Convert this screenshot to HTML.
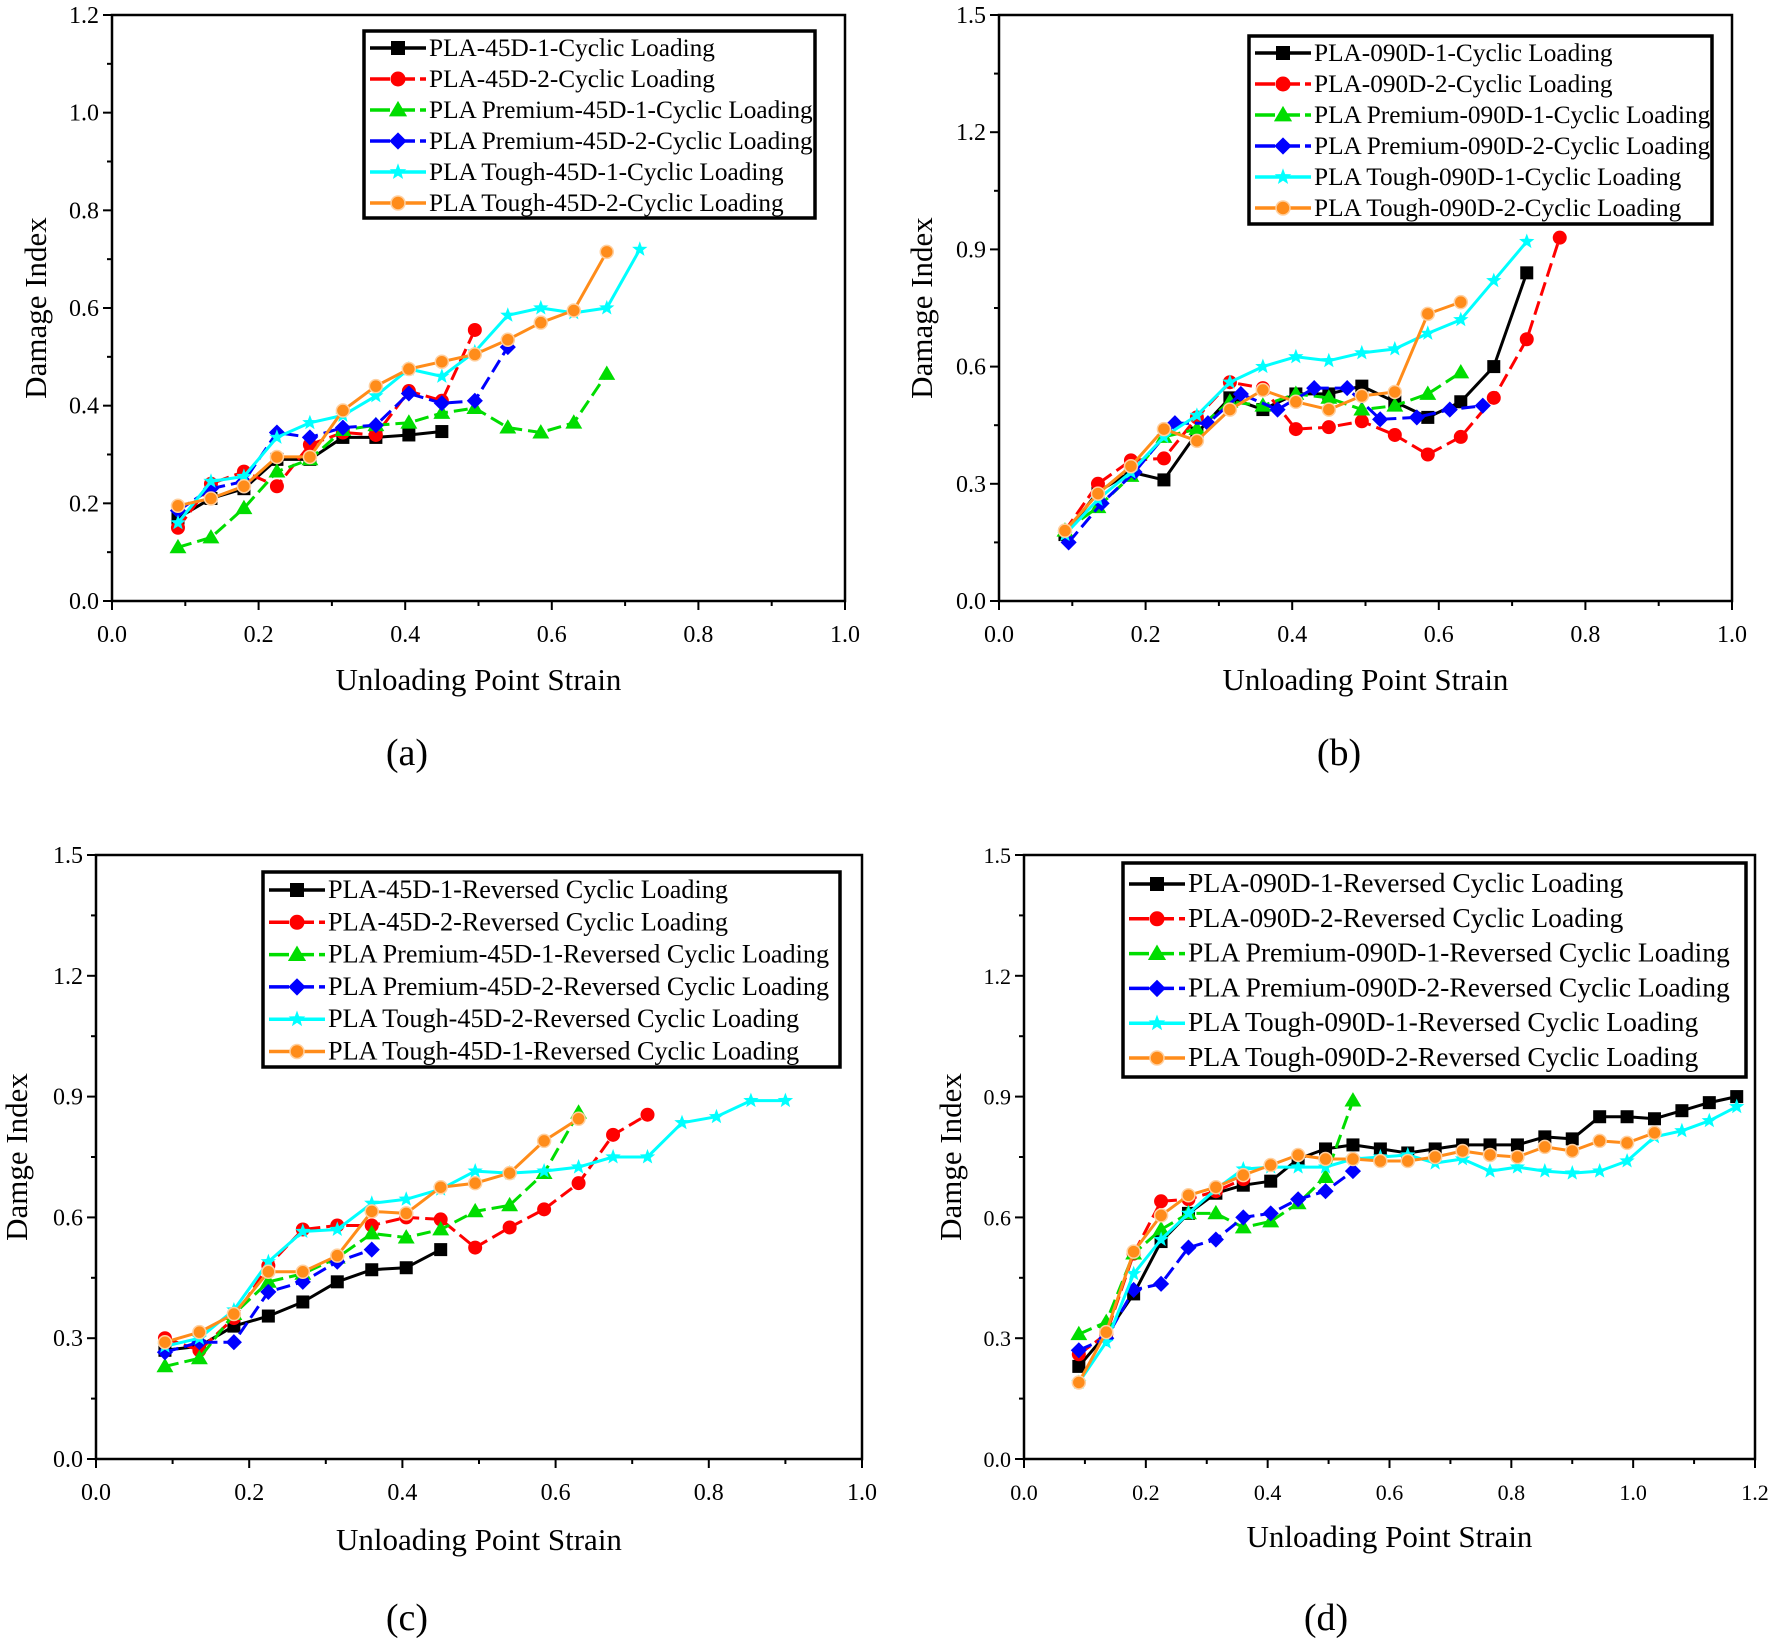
<!DOCTYPE html>
<html><head><meta charset="utf-8"><style>
html,body{margin:0;padding:0;background:#fff;}
svg{display:block;font-family:"Liberation Serif",serif;}
text{font-family:"Liberation Serif",serif;}
</style></head><body>
<svg id="fig" width="1772" height="1645" viewBox="0 0 1772 1645" xmlns="http://www.w3.org/2000/svg"></svg>
<script>
// ---- Panel (a) data ----
const xA = [0.09,0.135,0.18,0.225,0.27,0.315,0.36,0.405,0.45,0.495,0.54,0.585,0.63,0.675,0.72];
const a_black = [0.17,0.21,0.23,0.29,0.29,0.335,0.335,0.34,0.347];
const a_red = [0.15,0.24,0.265,0.235,0.32,0.345,0.34,0.43,0.41,0.555];
const a_green = [0.11,0.13,0.19,0.265,0.29,0.35,0.36,0.365,0.385,0.395,0.355,0.345,0.365,0.465];
const a_blue = [0.185,0.23,0.245,0.345,0.335,0.355,0.36,0.425,0.405,0.41,0.52];
const a_cyan = [0.16,0.245,0.255,0.335,0.365,0.38,0.42,0.475,0.46,0.51,0.585,0.6,0.59,0.6,0.72];
const a_orange = [0.195,0.21,0.235,0.295,0.295,0.39,0.44,0.475,0.49,0.505,0.535,0.57,0.595,0.715];
// ---- Panel (b) data ----
const xB = [0.09,0.135,0.18,0.225,0.27,0.315,0.36,0.405,0.45,0.495,0.54,0.585,0.63,0.675,0.72,0.765];
const xBblue = [0.095,0.14,0.185,0.24,0.285,0.33,0.38,0.43,0.475,0.52,0.57,0.615,0.66];
const b_black = [0.17,0.28,0.33,0.31,0.43,0.52,0.49,0.53,0.53,0.55,0.51,0.47,0.51,0.60,0.84];
const b_red = [0.18,0.30,0.36,0.365,0.47,0.56,0.545,0.44,0.445,0.46,0.425,0.375,0.42,0.52,0.67,0.93];
const b_green = [0.18,0.24,0.32,0.42,0.44,0.51,0.50,0.53,0.52,0.49,0.50,0.53,0.585];
const b_blue = [0.15,0.25,0.33,0.455,0.455,0.53,0.49,0.545,0.545,0.465,0.47,0.49,0.50];
const b_cyan = [0.17,0.26,0.33,0.42,0.475,0.56,0.60,0.625,0.615,0.635,0.645,0.685,0.72,0.82,0.92];
const b_orange = [0.18,0.275,0.345,0.44,0.41,0.49,0.54,0.51,0.49,0.525,0.535,0.735,0.765];
// ---- Panel (c) data ----
const xC = [0.09,0.135,0.18,0.225,0.27,0.315,0.36,0.405,0.45,0.495,0.54,0.585,0.63,0.675,0.72,0.765,0.81,0.855,0.9];
const c_black = [0.27,0.28,0.33,0.355,0.39,0.44,0.47,0.475,0.52];
const c_red = [0.30,0.27,0.35,0.48,0.57,0.58,0.58,0.60,0.595,0.525,0.575,0.62,0.685,0.805,0.855];
const c_green = [0.23,0.25,0.36,0.44,0.46,0.50,0.56,0.55,0.57,0.615,0.63,0.71,0.86];
const c_blue = [0.265,0.29,0.29,0.415,0.44,0.49,0.52];
const c_cyan = [0.28,0.30,0.37,0.49,0.565,0.57,0.635,0.645,0.67,0.715,0.71,0.715,0.725,0.75,0.75,0.835,0.85,0.89,0.89];
const c_orange = [0.29,0.315,0.36,0.465,0.465,0.505,0.615,0.61,0.675,0.685,0.71,0.79,0.845];
// ---- Panel (d) data ----
const xD = [0.09,0.135,0.18,0.225,0.27,0.315,0.36,0.405,0.45,0.495,0.54,0.585,0.63,0.675,0.72,0.765,0.81,0.855,0.9,0.945,0.99,1.035,1.08,1.125,1.17];
const d_black = [0.23,0.31,0.41,0.54,0.61,0.66,0.68,0.69,0.745,0.77,0.78,0.77,0.76,0.77,0.78,0.78,0.78,0.80,0.795,0.85,0.85,0.845,0.865,0.885,0.90];
const d_red = [0.26,0.31,0.51,0.64,0.645,0.665,0.695];
const d_green = [0.31,0.34,0.51,0.57,0.61,0.61,0.575,0.59,0.635,0.70,0.89];
const d_blue = [0.27,0.30,0.42,0.435,0.525,0.545,0.60,0.61,0.645,0.665,0.715];
const d_cyan = [0.19,0.29,0.46,0.545,0.61,0.67,0.72,0.725,0.725,0.725,0.745,0.75,0.755,0.735,0.745,0.715,0.725,0.715,0.71,0.715,0.74,0.80,0.815,0.84,0.875];
const d_orange = [0.19,0.315,0.515,0.605,0.655,0.675,0.705,0.73,0.755,0.745,0.745,0.74,0.74,0.75,0.765,0.755,0.75,0.775,0.765,0.79,0.785,0.81];
// ---- tick labels ----
const xTicks1 = ["0.0","0.2","0.4","0.6","0.8","1.0"];
const xTicks12 = ["0.0","0.2","0.4","0.6","0.8","1.0","1.2"];
const yTicksA = ["0.0","0.2","0.4","0.6","0.8","1.0","1.2"];
const yTicks15 = ["0.0","0.3","0.6","0.9","1.2","1.5"];
const labelsA = ["PLA-45D-1-Cyclic Loading","PLA-45D-2-Cyclic Loading","PLA Premium-45D-1-Cyclic Loading","PLA Premium-45D-2-Cyclic Loading","PLA Tough-45D-1-Cyclic Loading","PLA Tough-45D-2-Cyclic Loading"];
const labelsB = ["PLA-090D-1-Cyclic Loading","PLA-090D-2-Cyclic Loading","PLA Premium-090D-1-Cyclic Loading","PLA Premium-090D-2-Cyclic Loading","PLA Tough-090D-1-Cyclic Loading","PLA Tough-090D-2-Cyclic Loading"];
const labelsC = ["PLA-45D-1-Reversed Cyclic Loading","PLA-45D-2-Reversed Cyclic Loading","PLA Premium-45D-1-Reversed Cyclic Loading","PLA Premium-45D-2-Reversed Cyclic Loading","PLA Tough-45D-2-Reversed Cyclic Loading","PLA Tough-45D-1-Reversed Cyclic Loading"];
const labelsD = ["PLA-090D-1-Reversed Cyclic Loading","PLA-090D-2-Reversed Cyclic Loading","PLA Premium-090D-1-Reversed Cyclic Loading","PLA Premium-090D-2-Reversed Cyclic Loading","PLA Tough-090D-1-Reversed Cyclic Loading","PLA Tough-090D-2-Reversed Cyclic Loading"];

const NS="http://www.w3.org/2000/svg";
const svg=document.getElementById('fig');
function mk(tag,attrs,parent){const e=document.createElementNS(NS,tag);for(const k in attrs)e.setAttribute(k,attrs[k]);(parent||svg).appendChild(e);return e;}
const COL=['#000000','#ff0000','#00dd00','#0000ff','#00ffff','#ff8c1a'];
const DASH=['none','14 6','14 6','14 6','none','none'];
const MK=['square','circle','triangle','diamond','star','circle'];
const SERIES_NAMES=['black','red','green','blue','cyan','orange'];

function marker(g,type,x,y,c,s){
  let e;
  if(type==='square') e=mk('rect',{x:x-s/2,y:y-s/2,width:s,height:s,fill:c},g);
  else if(type==='circle'&&c==='#ff8c1a'){e=mk('circle',{cx:x,cy:y,r:s/2,fill:c,stroke:'#ffd0a0','stroke-width':1.5},g);}
  else if(type==='circle') e=mk('circle',{cx:x,cy:y,r:s/2+0.5,fill:c},g);
  else if(type==='triangle'){const r=s*0.65;e=mk('polygon',{points:`${x},${y-r} ${x+r},${y+r*0.7} ${x-r},${y+r*0.7}`,fill:c},g);}
  else if(type==='diamond'){const r=s*0.62;e=mk('polygon',{points:`${x},${y-r} ${x+r},${y} ${x},${y+r} ${x-r},${y}`,fill:c},g);}
  else {let p=[];const R=s*0.62,ri=R*0.42;for(let i=0;i<10;i++){const a=-Math.PI/2+i*Math.PI/5;const rr=i%2?ri:R;p.push((x+rr*Math.cos(a)).toFixed(1)+','+(y+rr*Math.sin(a)).toFixed(1));}e=mk('polygon',{points:p.join(' '),fill:c},g);}
  return e;
}

function panel(cfg){
  const g=mk('g',{});
  
  
  const L=cfg.L,R=cfg.R,T=cfg.T,B=cfg.B;
  const sx=v=>L+(v-cfg.xmin)/(cfg.xmax-cfg.xmin)*(R-L);
  const sy=v=>B-(v-cfg.ymin)/(cfg.ymax-cfg.ymin)*(B-T);
  const frame=mk('rect',{x:L,y:T,width:R-L,height:B-T,fill:'none',stroke:'#000','stroke-width':2.5},g);
  
  
  const nx=cfg.xt.length;
  for(let i=0;i<nx;i++){
    const v=cfg.xmin+i*(cfg.xmax-cfg.xmin)/(nx-1);const X=sx(v);
    mk('line',{x1:X,y1:B,x2:X,y2:B+9,stroke:'#000','stroke-width':2},g);
    if(i<nx-1){const Xm=sx(v+(cfg.xmax-cfg.xmin)/(nx-1)/2);mk('line',{x1:Xm,y1:B,x2:Xm,y2:B+5,stroke:'#000','stroke-width':2},g);}
    const t=mk('text',{x:X,y:B+41,'text-anchor':'middle','font-size':cfg.fs},g);t.textContent=cfg.xt[i];
    
    
  }
  const ny=cfg.yt.length;
  for(let i=0;i<ny;i++){
    const v=cfg.ymin+i*(cfg.ymax-cfg.ymin)/(ny-1);const Y=sy(v);
    mk('line',{x1:L-9,y1:Y,x2:L,y2:Y,stroke:'#000','stroke-width':2},g);
    if(i<ny-1){const Ym=sy(v+(cfg.ymax-cfg.ymin)/(ny-1)/2);mk('line',{x1:L-5,y1:Ym,x2:L,y2:Ym,stroke:'#000','stroke-width':2},g);}
    const t=mk('text',{x:L-13,y:Y+8,'text-anchor':'end','font-size':cfg.fs},g);t.textContent=cfg.yt[i];
    
    
  }
  const xt=mk('text',{x:(L+R)/2,y:cfg.xtitleY,'text-anchor':'middle','font-size':cfg.tfs},g);xt.textContent='Unloading Point Strain';
  
  
  const yt=mk('text',{x:0,y:0,'text-anchor':'middle','font-size':cfg.tfs,transform:`translate(${cfg.ytitleX},${(T+B)/2}) rotate(-90)`},g);yt.textContent=cfg.ytitle;
  
  
  const pl=mk('text',{x:cfg.plx,y:cfg.ply,'text-anchor':'middle','font-size':38},g);pl.textContent=cfg.plabel;
  
  
  cfg.series.forEach((s,k)=>{
    const sg=mk('g',{},g);
    
    
    const pts=s.y.map((v,i)=>sx(s.x[i]).toFixed(1)+','+sy(v).toFixed(1)).join(' ');
    mk('polyline',{points:pts,fill:'none',stroke:COL[k],'stroke-width':3,'stroke-dasharray':DASH[k],'stroke-linejoin':'round'},sg);
    s.y.forEach((v,i)=>{const m=marker(sg,MK[k],sx(s.x[i]),sy(v),COL[k],13);
      
      });
  });
  const lg=mk('g',{},g);
  
  
  mk('rect',{x:cfg.lx,y:cfg.ly,width:cfg.lw,height:cfg.lh,fill:'#fff',stroke:'#000','stroke-width':3.5},lg);
  cfg.labels.forEach((lab,k)=>{
    const ey=cfg.ly+cfg.lpad+k*cfg.lstep;
    const eg=mk('g',{},lg);
    
    
    mk('line',{x1:cfg.lx+6,y1:ey,x2:cfg.lx+62,y2:ey,stroke:COL[k],'stroke-width':3.5,'stroke-dasharray':DASH[k]==='none'?'none':'20 5'},eg);
    marker(eg,MK[k],cfg.lx+34,ey,COL[k],14);
    const t=mk('text',{x:cfg.lx+65,y:ey+8,'font-size':cfg.lfs},eg);t.textContent=lab;
  });
}

panel({name:'panel-a',L:112,R:845,T:15,B:601,xmin:0,xmax:1,ymin:0,ymax:1.2,xt:xTicks1,yt:yTicksA,fs:24,tfs:31,
  xtitleY:690,ytitleX:46,ytitle:'Damage Index',plabel:'(a)',plx:407,ply:765,
  series:[{x:xA,y:a_black},{x:xA,y:a_red},{x:xA,y:a_green},{x:xA,y:a_blue},{x:xA,y:a_cyan},{x:xA,y:a_orange}],
  labels:labelsA,lx:364,ly:31,lw:451,lh:187,lpad:17,lstep:31,lfs:25.3});
panel({name:'panel-b',L:999,R:1732,T:15,B:601,xmin:0,xmax:1,ymin:0,ymax:1.5,xt:xTicks1,yt:yTicks15,fs:24,tfs:31,
  xtitleY:690,ytitleX:932,ytitle:'Damage Index',plabel:'(b)',plx:1339,ply:765,
  series:[{x:xB,y:b_black},{x:xB,y:b_red},{x:xB,y:b_green},{x:xBblue,y:b_blue},{x:xB,y:b_cyan},{x:xB,y:b_orange}],
  labels:labelsB,lx:1249,ly:36,lw:463,lh:188,lpad:17,lstep:31,lfs:25.3});
panel({name:'panel-c',L:96,R:862,T:855,B:1459,xmin:0,xmax:1,ymin:0,ymax:1.5,xt:xTicks1,yt:yTicks15,fs:24,tfs:31,
  xtitleY:1550,ytitleX:27,ytitle:'Damge Index',plabel:'(c)',plx:407,ply:1630,
  series:[{x:xC,y:c_black},{x:xC,y:c_red},{x:xC,y:c_green},{x:xC,y:c_blue},{x:xC,y:c_cyan},{x:xC,y:c_orange}],
  labels:labelsC,lx:263,ly:872,lw:577,lh:195,lpad:18,lstep:32.3,lfs:26.2});
panel({name:'panel-d',L:1024,R:1755,T:855,B:1459,xmin:0,xmax:1.2,ymin:0,ymax:1.5,xt:xTicks12,yt:yTicks15,fs:22,tfs:31,
  xtitleY:1547,ytitleX:961,ytitle:'Damge Index',plabel:'(d)',plx:1326,ply:1630,
  series:[{x:xD,y:d_black},{x:xD,y:d_red},{x:xD,y:d_green},{x:xD,y:d_blue},{x:xD,y:d_cyan},{x:xD,y:d_orange}],
  labels:labelsD,lx:1123,ly:863,lw:623,lh:214,lpad:21,lstep:34.8,lfs:27.6});
</script>
</body></html>
